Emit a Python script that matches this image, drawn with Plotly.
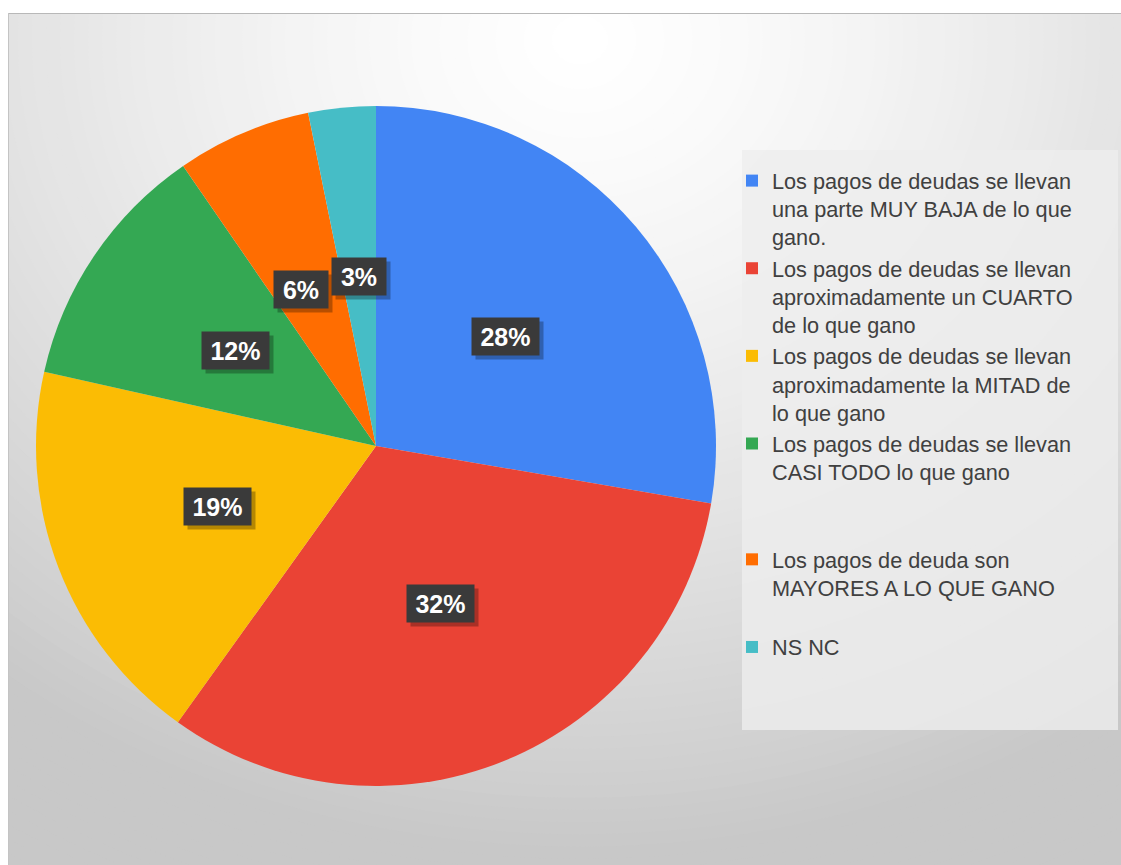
import math
import plotly.graph_objects as go

# ---------------- data ----------------
categories = [
    "Los pagos de deudas se llevan<br>una parte MUY BAJA de lo que<br>gano.",
    "Los pagos de deudas se llevan<br>aproximadamente un CUARTO<br>de lo que gano",
    "Los pagos de deudas se llevan<br>aproximadamente la MITAD de<br>lo que gano",
    "Los pagos de deudas se llevan<br>CASI TODO lo que gano<br> <br> ",
    "Los pagos de deuda son<br>MAYORES A LO QUE GANO<br> ",
    "NS NC",
]
values = [27.7, 32.2, 18.6, 11.9, 6.4, 3.2]
colors = ["#4285F4", "#EA4335", "#FBBC04", "#34A853", "#FF6D01", "#46BDC6"]

# ---------------- geometry ----------------
W, H = 1121, 865
def px(x):
    return x / W
def py(y):
    return 1 - y / H

cx, cy, R = 376, 446, 340

fig = go.Figure()
fig.add_trace(go.Pie(
    labels=categories,
    values=values,
    marker=dict(colors=colors, line=dict(width=0)),
    sort=False,
    direction="clockwise",
    rotation=0,
    textinfo="none",
    hole=0,
    domain=dict(x=[px(cx - R), px(cx + R)], y=[py(cy + R), py(cy - R)]),
))

# ---------------- background gradient (style) ----------------
shapes = []
gx, gy = 580, 40
steps = 90
rmax = 1100
for i in range(steps):
    r = rmax * (1 - i / steps)
    t = min(r / 820.0, 1.0)
    g = int(round(255 - (255 - 200) * (t ** 1.35)))
    rx = r * 1.15
    shapes.append(dict(type="circle", xref="paper", yref="paper",
                       x0=px(gx - rx), x1=px(gx + rx), y0=py(gy + r), y1=py(gy - r),
                       fillcolor=f"rgb({g},{g},{g})", line=dict(width=0), layer="below"))
# white strips on top/left
shapes.append(dict(type="rect", xref="paper", yref="paper", x0=0, x1=1, y0=py(13), y1=1,
                   fillcolor="white", line=dict(width=0), layer="below"))
shapes.append(dict(type="rect", xref="paper", yref="paper", x0=0, x1=px(8), y0=0, y1=1,
                   fillcolor="white", line=dict(width=0), layer="below"))
shapes.append(dict(type="line", xref="paper", yref="paper", x0=px(8), x1=1, y0=py(13.5), y1=py(13.5),
                   line=dict(color="#b8b8b8", width=1.2), layer="below"))
shapes.append(dict(type="line", xref="paper", yref="paper", x0=px(8.5), x1=px(8.5), y0=0, y1=py(13),
                   line=dict(color="#c4c4c4", width=1), layer="below"))
# legend panel
shapes.append(dict(type="rect", xref="paper", yref="paper", x0=px(742), x1=px(1118), y0=py(730), y1=py(150),
                   fillcolor="rgba(238,238,238,0.8)", line=dict(width=0), layer="below"))

# ---------------- data labels ----------------
annotations = []
total = sum(values)
cum = 0.0
nudge = {4: -8}
for idx, v in enumerate(values):
    mid = (cum + v / 2) / total * 2 * math.pi
    cum += v
    lx = cx + 0.5 * R * math.sin(mid) + nudge.get(idx, 0)
    ly = cy - 0.5 * R * math.cos(mid)
    txt = f"{round(v / total * 100):.0f}%"
    bw = 13 * len(txt) + 20
    common = dict(xref="paper", yref="paper", showarrow=False, xanchor="center", yanchor="middle",
                  width=bw, height=29, borderpad=4)
    # drop shadow box
    annotations.append(dict(x=px(lx + 4), y=py(ly + 4), text=" ",
                            font=dict(size=8, color="rgba(0,0,0,0)"),
                            bgcolor="rgba(0,0,0,0.28)", **common))
    annotations.append(dict(x=px(lx), y=py(ly), text=f"<b>{txt}</b>",
                            font=dict(family="Liberation Sans, Arial", size=25, color="white"),
                            bgcolor="#3a3a3a", **common))

fig.update_layout(
    width=W, height=H,
    margin=dict(l=0, r=0, t=0, b=0),
    paper_bgcolor="white",
    plot_bgcolor="white",
    shapes=shapes,
    annotations=annotations,
    showlegend=True,
    legend=dict(
        x=px(732), y=py(160), xanchor="left", yanchor="top",
        bgcolor="rgba(0,0,0,0)", borderwidth=0,
        font=dict(family="Liberation Sans, Arial", size=21.7, color="#404040"),
        traceorder="normal",
        valign="top",
    ),
)

fig.write_html("out.html")
